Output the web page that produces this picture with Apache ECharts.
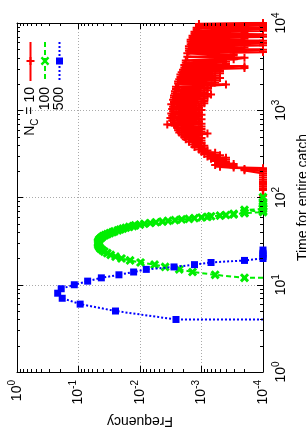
<!DOCTYPE html>
<html><head><meta charset="utf-8">
<script src="https://cdn.jsdelivr.net/npm/echarts@6/dist/echarts.min.js"></script>
<style>html,body{margin:0;padding:0;background:#fff}#c{width:306px;height:436px}</style>
</head><body><div id="c"></div>
<script>
// ---- data: [time, frequency] ----
const seriesNames = ['10', '100', '500'];
const red = [[105,1e-4],[122,1e-4],[128,1e-4],[135,1e-4],[141,1e-4],[147,1e-4],[152,1e-4],[160,1e-4],[170,1e-4],[180,1e-4],[190,1e-4],[200,1e-4],
[205,2e-4],[208,1e-4],[212,2e-4],[216,1e-4],[220,3e-4],[225,5e-4],[230,3e-4],[236,6e-4],[242,3e-4],[248,5e-4],[255,4e-4],[262,6e-4],[270,4e-4],[278,7e-4],[286,4e-4],[295,8e-4],[305,5e-4],[315,9e-4],[325,6e-4],[335,1.0e-3],[345,8e-4],[355,1.1e-3],[367,9e-4],[380,1.3e-3],[392,9e-4],[405,1.4e-3],[420,1.0e-3],[435,1.6e-3],[450,1.0e-3],[465,1.8e-3],[480,1.0e-3],[495,1.9e-3],[510,1.1e-3],[525,2.1e-3],[540,8e-4],[555,2.3e-3],[570,1.0e-3],[590,2.4e-3],[610,1.0e-3],[630,2.5e-3],[650,1.0e-3],[670,2.7e-3],[685,3.6e-3],[700,1.0e-3],[720,2.8e-3],[740,1.1e-3],[765,3.0e-3],[790,1.0e-3],[815,3.2e-3],[840,1.1e-3],[865,3.0e-3],[890,1.0e-3],[915,3.1e-3],[945,1.1e-3],[975,2.9e-3],[1005,1.0e-3],[1035,3.0e-3],[1065,1.1e-3],[1100,2.9e-3],[1135,1.0e-3],[1170,3.1e-3],[1205,9e-4],[1240,2.8e-3],
[1280,9e-4],[1320,2.9e-3],[1360,9e-4],[1400,2.8e-3],[1440,8e-4],[1480,2.8e-3],[1520,7e-4],[1560,2.7e-3],[1600,9e-4],[1650,2.7e-3],[1700,8e-4],[1750,2.6e-3],[1800,8e-4],[1860,2.6e-3],[1920,7e-4],[1970,4e-4],[2020,2.4e-3],[2080,6e-4],[2140,2.4e-3],[2200,6e-4],[2270,2.3e-3],[2340,5e-4],[2410,2.2e-3],[2490,6e-4],[2570,2.2e-3],[2650,5e-4],[2730,2.1e-3],[2820,5e-4],[2910,2.0e-3],[3000,5e-4],[3050,2e-4],[3100,1.9e-3],[3200,2e-4],[3300,1.9e-3],[3400,4e-4],[3500,1.8e-3],[3600,4e-4],[3720,1.8e-3],[3850,3e-4],[3990,2e-4],[4100,1.7e-3],[4250,3e-4],[4370,3e-4],[4500,1.7e-3],[4650,1e-4],[4800,1.6e-3],[4950,1e-4],[5100,1.6e-3],[5250,2e-4],[5400,1.6e-3],[5550,1e-4],[5720,1.5e-3],[5900,1e-4],[6080,1.5e-3],[6250,1e-4],[6420,1.5e-3],[6600,2e-4],[6780,1.4e-3],[6950,1e-4],[7150,1.4e-3],[7350,1e-4],[7550,1.3e-3],[7750,2e-4],[7950,1.3e-3],[8150,1e-4],[8350,1.2e-3],[8550,1e-4],[8800,1.2e-3],[9000,1e-4],[9250,1.1e-3],[9500,1e-4],[9750,1.1e-3],[10000,1e-4]];
const green = [[12,1e-4],[12,2e-4],[13,6e-4],[14,1.4e-3],[15,2.3e-3],[16,3.9e-3],[17,5.8e-3],[18,0.0098],[19,0.0145],[20,0.020],[21,0.025],[22,0.030],[23,0.034],[24,0.038],[25,0.041],[26,0.044],[27,0.046],[28,0.047],[29,0.048],[30,0.048],[31,0.048],[32,0.047],[33,0.046],[34,0.044],[35,0.042],[36,0.040],[37,0.037],[38,0.034],[39,0.031],[40,0.028],[41,0.026],[42,0.023],[43,0.021],[44,0.019],[45,0.017],[46,0.015],[47,0.013],[48,0.012],[49,0.010],[50,0.0085],[51,0.0068],[52,0.0055],[53,0.0043],[54,0.0035],[55,0.0027],[56,0.0021],[57,0.0016],[58,0.0013],[59,0.0010],[60,0.0008],[61,0.0007],[62,0.0005],[63,0.0004],[64,0.0003],[65,0.0003],[66,0.0002],[67,0.0002],[68,0.0001],[70,0.0001],[72,0.0002],[74,0.0001],[77,0.0001],[80,0.0001],[84,0.0001],[87,0.0001],[101,0.0001]];
const blue = [[4,1e-4],[4,0.0026],[5,0.025],[6,0.094],[7,0.184],[8,0.218],[9,0.191],[10,0.117],[11,0.071],[12,0.0425],[13,0.022],[14,0.0127],[15,0.0079],[16,0.0028],[17,0.0013],[18,0.0007],[19,0.0002],[20,0.0001],[21,0.0001],[22,0.0001],[23,0.0001],[25,0.0001]];
// the first point of green/blue is the line's run-in from the edge (drawn without marker)
const leadIn = {green: 1, blue: 1};

// ---- axes ----
const freqMin = 1e-4, freqMax = 1;
const timeMin = 1, timeMax = 1e4;
const minorMultipliers = [2,3,4,5,6,7,8,9];
const freqDecades = [1e-4,1e-3,1e-2,1e-1];
const timeDecades = [1,10,100,1000];

const FONT = 'Liberation Sans, Arial, Helvetica, sans-serif';
const colors = ['#ff0000', '#00ee00', '#0000ff'];
const PLUS = 'path://M3,0H5V3H8V5H5V8H3V5H0V3H3Z';
const FATPLUS = 'path://M2.8,0H5.2V2.8H8V5.2H5.2V8H2.8V5.2H0V2.8H2.8Z';

function expLabel(v){
  const e = Math.round(Math.log10(v));
  return '{b|10}{s|' + e + '}';
}
const labelRich = {
  b: {fontSize: 14, fontFamily: FONT, color: '#000', lineHeight: 20},
  s: {fontSize: 10, fontFamily: FONT, color: '#000', lineHeight: 10, verticalAlign: 'top'}
};

function toXY(arr, name){
  return arr.map((p, i) => {
    const item = {value: [p[1], p[0]]};
    if (leadIn[name] && i < leadIn[name]) item.symbol = 'none';
    return item;
  });
}

const xMinor = [];
freqDecades.forEach(d => minorMultipliers.forEach(m => xMinor.push([d*m, 1])));
const yMinor = [];
timeDecades.forEach(d => minorMultipliers.forEach(m => yMinor.push([1, d*m])));

const axisLine = {show: true, lineStyle: {color: '#000', width: 1}};
const commonX = {type: 'log', logBase: 10, min: freqMin, max: freqMax, inverse: true, gridIndex: 0};
const commonY = {type: 'log', logBase: 10, min: timeMin, max: timeMax, gridIndex: 0};

const chart = echarts.init(document.getElementById('c'), null, {renderer: 'canvas'});
const option = {
  animation: false,
  backgroundColor: '#fff',
  grid: {left: 17, top: 23, right: 43, bottom: 64, containLabel: false, outerBoundsMode: 'none'},
  xAxis: [
    Object.assign({}, commonX, {
      position: 'bottom', axisLine,
      axisTick: {show: true, inside: true, length: 6, lineStyle: {color: '#000'}},
      splitLine: {show: true, lineStyle: {color: '#aaa', type: [1, 2], width: 1}},
      axisLabel: {show: true, rotate: 90, margin: 8, formatter: expLabel, rich: labelRich},
      name: 'Frequency', nameLocation: 'middle', nameRotate: 180, nameGap: 42,
      nameTextStyle: {fontSize: 14, fontFamily: FONT, color: '#000'}
    }),
    Object.assign({}, commonX, {
      position: 'top', axisLine,
      axisTick: {show: true, inside: true, length: 6, lineStyle: {color: '#000'}},
      splitLine: {show: false}, axisLabel: {show: false}
    })
  ],
  yAxis: [
    Object.assign({}, commonY, {
      position: 'right', axisLine,
      axisTick: {show: true, inside: true, length: 6, lineStyle: {color: '#000'}},
      splitLine: {show: true, lineStyle: {color: '#aaa', type: [1, 2], width: 1}},
      axisLabel: {show: true, rotate: 90, margin: 8, formatter: expLabel, rich: labelRich},
      name: 'Time for entire catch', nameLocation: 'middle', nameRotate: 90, nameGap: 27,
      nameTextStyle: {fontSize: 14, fontFamily: FONT, color: '#000'}
    }),
    Object.assign({}, commonY, {
      position: 'left', axisLine,
      axisTick: {show: true, inside: true, length: 6, lineStyle: {color: '#000'}},
      splitLine: {show: false}, axisLabel: {show: false}
    })
  ],
  series: [
    {
      name: seriesNames[0], type: 'line', xAxisIndex: 0, yAxisIndex: 0,
      data: toXY(red, 'red'), symbol: PLUS, symbolSize: 8, showAllSymbol: true,
      lineStyle: {color: colors[0], width: 2.6}, itemStyle: {color: colors[0]}, z: 2
    },
    {
      name: seriesNames[1], type: 'line', xAxisIndex: 0, yAxisIndex: 0,
      data: toXY(green, 'green'), symbol: FATPLUS, symbolRotate: 45, symbolSize: 10, showAllSymbol: true,
      lineStyle: {color: colors[1], width: 2, type: [5, 3]}, itemStyle: {color: colors[1]}, z: 3
    },
    {
      name: seriesNames[2], type: 'line', xAxisIndex: 0, yAxisIndex: 0,
      data: toXY(blue, 'blue'), symbol: 'rect', symbolSize: 7, showAllSymbol: true,
      lineStyle: {color: colors[2], width: 2, type: [2, 2]}, itemStyle: {color: colors[2]}, z: 4
    },
    {
      type: 'custom', xAxisIndex: 0, yAxisIndex: 0, silent: true, z: 10,
      data: xMinor,
      renderItem: (params, api) => {
        const v = api.value(0);
        const b = api.coord([v, timeMin]);
        const t = api.coord([v, timeMax]);
        const x = Math.round(b[0]) + 0.5;
        return {type: 'group', children: [
          {type: 'line', shape: {x1: x, y1: b[1], x2: x, y2: b[1] - 3}, style: {stroke: '#000', lineWidth: 1}},
          {type: 'line', shape: {x1: x, y1: t[1], x2: x, y2: t[1] + 3}, style: {stroke: '#000', lineWidth: 1}}
        ]};
      }
    },
    {
      type: 'custom', xAxisIndex: 0, yAxisIndex: 0, silent: true, z: 10,
      data: yMinor,
      renderItem: (params, api) => {
        const v = api.value(1);
        const l = api.coord([freqMax, v]);
        const r = api.coord([freqMin, v]);
        const y = Math.round(l[1]) + 0.5;
        return {type: 'group', children: [
          {type: 'line', shape: {x1: l[0], y1: y, x2: l[0] + 3, y2: y}, style: {stroke: '#000', lineWidth: 1}},
          {type: 'line', shape: {x1: r[0], y1: y, x2: r[0] - 3, y2: y}, style: {stroke: '#000', lineWidth: 1}}
        ]};
      }
    }
  ]
};
chart.setOption(option);

// ---- legend (rotated like the plot) ----
const legendX = [30.5, 45, 59.5];
const legendTop = 42, legendBottom = 81, legendMark = 61, labelEnd = 87;
const legendText = ['{n|N}{s|C}{n| = 10}', '{n|100}', '{n|500}'];
const legendRich = {
  n: {fontSize: 14, fontFamily: FONT, color: '#000', lineHeight: 20},
  s: {fontSize: 10, fontFamily: FONT, color: '#000', lineHeight: 10, verticalAlign: 'bottom'}
};
const g = [];
g.push({type: 'line', shape: {x1: legendX[0], y1: legendTop, x2: legendX[0], y2: legendBottom}, style: {stroke: colors[0], lineWidth: 2}});
g.push({type: 'rect', shape: {x: legendX[0]-4, y: legendMark-1, width: 8, height: 2}, style: {fill: colors[0]}});
g.push({type: 'rect', shape: {x: legendX[0]-1, y: legendMark-4, width: 2, height: 8}, style: {fill: colors[0]}});
g.push({type: 'line', shape: {x1: legendX[1], y1: legendTop, x2: legendX[1], y2: legendBottom}, style: {stroke: colors[1], lineWidth: 2, lineDash: [5, 3]}});
g.push({type: 'group', x: legendX[1], y: legendMark, rotation: Math.PI/4, children: [
  {type: 'rect', shape: {x: -5, y: -1.2, width: 10, height: 2.4}, style: {fill: colors[1]}},
  {type: 'rect', shape: {x: -1.2, y: -5, width: 2.4, height: 10}, style: {fill: colors[1]}}
]});
g.push({type: 'line', shape: {x1: legendX[2], y1: legendTop, x2: legendX[2], y2: legendBottom}, style: {stroke: colors[2], lineWidth: 2, lineDash: [2, 2]}});
g.push({type: 'rect', shape: {x: legendX[2]-3.5, y: legendMark-3.5, width: 7, height: 7}, style: {fill: colors[2]}});
legendText.forEach((t, i) => {
  g.push({type: 'text', x: legendX[i], y: labelEnd, rotation: Math.PI/2,
    style: {text: t, rich: legendRich, align: 'right', verticalAlign: 'middle'}});
});
chart.setOption({graphic: g});
</script>
</body></html>
